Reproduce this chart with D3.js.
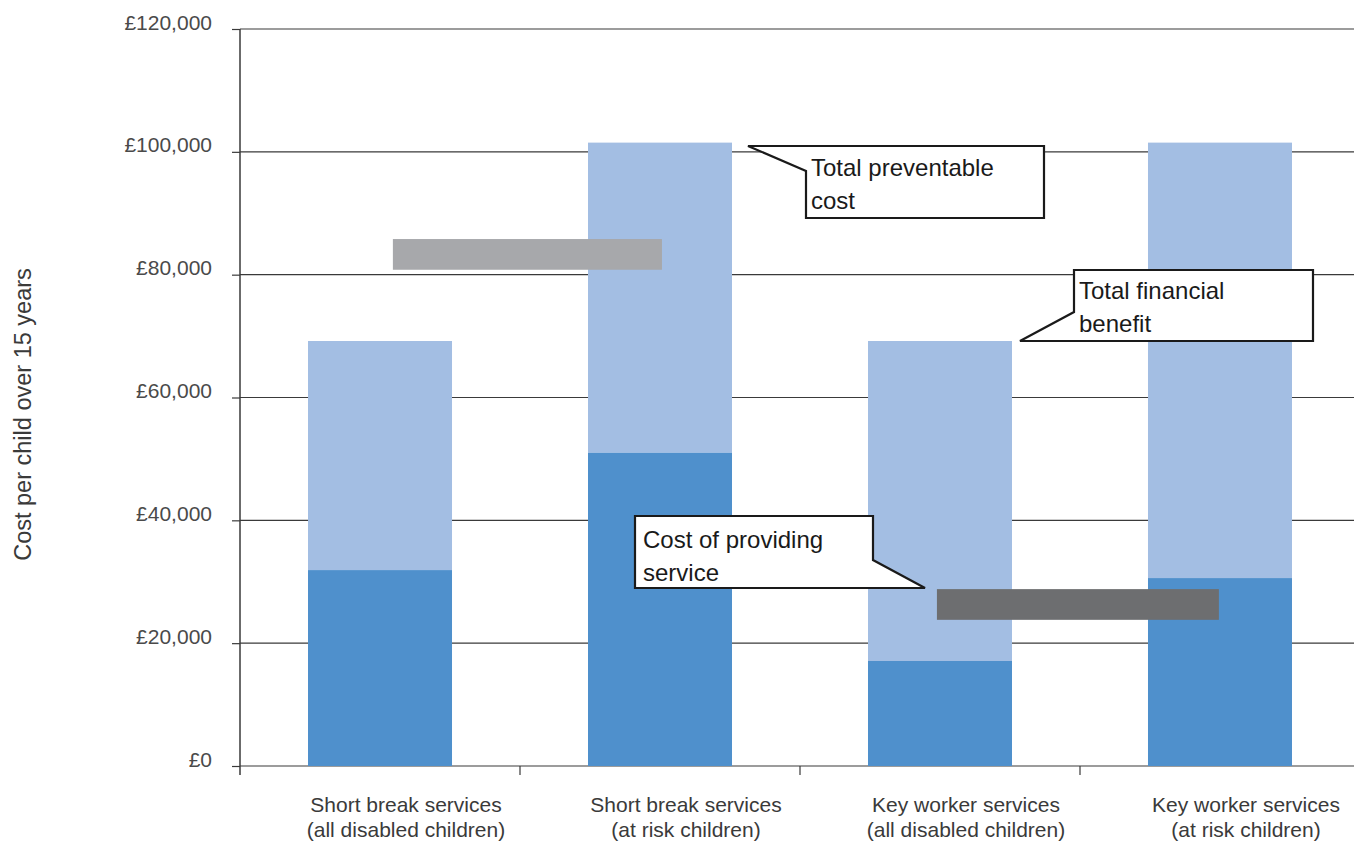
<!DOCTYPE html>
<html>
<head>
<meta charset="utf-8">
<script src="https://cdn.jsdelivr.net/npm/d3@7"></script>
<style>
  html, body { margin: 0; padding: 0; background: #fff; }
  svg { display: block; font-family: "Liberation Sans", Arial, Helvetica, sans-serif; }
</style>
</head>
<body>
<svg id="chart" width="1354" height="841"></svg>
<script>
// Service categories (two-line labels)
const categories = [
  ["Short break services", "(all disabled children)"],
  ["Short break services", "(at risk children)"],
  ["Key worker services", "(all disabled children)"],
  ["Key worker services", "(at risk children)"]
];
const categoryKeys = categories.map(c => c.join(" "));

// Cost of providing the service, per child over 15 years (£)
const serviceCost = [31900, 51000, 17100, 30600];
// Total preventable cost, per child over 15 years (£)
const totalCost = [69200, 101500, 69200, 101500];

const yTicks = [0, 20000, 40000, 60000, 80000, 100000, 120000];
const yTitle = "Cost per child over 15 years";

const colors = {
  cost: "#4f90cc",
  benefit: "#a3bee3",
  greyLight: "#a7a8ab",
  greyDark: "#6d6e70",
  grid: "#3a3a3a",
  tickText: "#4a4a4a",
  labelText: "#3a3a3a"
};

const svg = d3.select("#chart");
const W = 1354;

const y = d3.scaleLinear().domain([0, 120000]).range([766, 29]);
const x = d3.scaleBand().domain(categoryKeys).range([240, 1360])
  .paddingInner(0.4857).paddingOuter(0.2429);
// continuous position across the category slots (0..4)
const xPos = d3.scaleLinear().domain([0, categories.length]).range(x.range());

// gridlines
svg.append("g").selectAll("line").data(yTicks).join("line")
  .attr("x1", x.range()[0]).attr("x2", W)
  .attr("y1", d => y(d)).attr("y2", d => y(d))
  .attr("stroke", colors.grid).attr("stroke-width", 1.2);

// stacked bars
const bars = svg.append("g");
bars.selectAll("rect.benefit").data(categoryKeys).join("rect")
  .attr("class", "benefit")
  .attr("x", d => x(d)).attr("width", x.bandwidth())
  .attr("y", (d, i) => y(totalCost[i]))
  .attr("height", (d, i) => y(serviceCost[i]) - y(totalCost[i]))
  .attr("fill", colors.benefit);
bars.selectAll("rect.cost").data(categoryKeys).join("rect")
  .attr("class", "cost")
  .attr("x", d => x(d)).attr("width", x.bandwidth())
  .attr("y", (d, i) => y(serviceCost[i]))
  .attr("height", (d, i) => y(0) - y(serviceCost[i]))
  .attr("fill", colors.cost);

// grey key strips
const strips = [
  { from: 0.546, to: 1.507, top: 85800, bottom: 80800, fill: colors.greyLight },
  { from: 2.489, to: 3.496, top: 28800, bottom: 23800, fill: colors.greyDark }
];
svg.append("g").selectAll("rect").data(strips).join("rect")
  .attr("x", d => xPos(d.from)).attr("width", d => xPos(d.to) - xPos(d.from))
  .attr("y", d => y(d.top)).attr("height", d => y(d.bottom) - y(d.top))
  .attr("fill", d => d.fill);

// callouts
const callouts = [
  { lines: ["Total preventable", "cost"], tx: 811, ty: 176,
    path: [[748, 146], [1044, 146], [1044, 218], [806, 218], [806, 171]] },
  { lines: ["Total financial", "benefit"], tx: 1079, ty: 299,
    path: [[1074, 270], [1313, 270], [1313, 341], [1020, 341], [1074, 312]] },
  { lines: ["Cost of providing", "service"], tx: 643, ty: 548,
    path: [[635, 516], [873, 516], [873, 560], [925, 588], [635, 588]] }
];
const cg = svg.append("g").selectAll("g").data(callouts).join("g");
cg.append("path")
  .attr("d", d => d3.line()(d.path) + "Z")
  .attr("fill", "#fff").attr("stroke", "#1a1a1a").attr("stroke-width", 2.2)
  .attr("stroke-linejoin", "miter");
cg.each(function(d) {
  const t = d3.select(this).append("text")
    .attr("x", d.tx).attr("y", d.ty)
    .attr("font-size", 24).attr("fill", "#1a1a1a");
  d.lines.forEach((l, i) => t.append("tspan").attr("x", d.tx).attr("dy", i ? 33 : 0).text(l));
});

// y axis
const yAxis = svg.append("g").attr("transform", `translate(${x.range()[0]},0)`)
  .call(d3.axisLeft(y).tickValues(yTicks).tickSize(8).tickPadding(20)
    .tickFormat(d => "£" + d3.format(",")(d)));
yAxis.select(".domain").remove();
yAxis.selectAll(".tick line").attr("stroke", colors.grid).attr("stroke-width", 1.2);
yAxis.selectAll(".tick text").attr("font-size", 21).attr("fill", colors.tickText)
  .attr("font-family", null).attr("dy", "0em");
yAxis.append("line").attr("x1", 0).attr("x2", 0)
  .attr("y1", y(120000)).attr("y2", y(0) + 9)
  .attr("stroke", colors.grid).attr("stroke-width", 1.5);

// x axis ticks at slot boundaries
svg.append("g").selectAll("line").data(d3.range(1, categories.length + 1)).join("line")
  .attr("x1", d => xPos(d)).attr("x2", d => xPos(d))
  .attr("y1", y(0)).attr("y2", y(0) + 9)
  .attr("stroke", colors.grid).attr("stroke-width", 1.2);

// category labels
const lab = svg.append("g").selectAll("text").data(categories).join("text")
  .attr("text-anchor", "middle").attr("font-size", 21).attr("fill", colors.labelText);
lab.each(function(d, i) {
  const cx = x(categoryKeys[i]) + x.bandwidth() / 2 + 26;
  d.forEach((l, j) => d3.select(this).append("tspan")
    .attr("x", cx).attr("y", 812 + j * 25).text(l));
});

// y axis title
svg.append("text")
  .attr("transform", `translate(31,${(y(0) + y(120000)) / 2 + 17}) rotate(-90)`)
  .attr("text-anchor", "middle").attr("font-size", 23.5).attr("fill", colors.labelText)
  .text(yTitle);
</script>
</body>
</html>
